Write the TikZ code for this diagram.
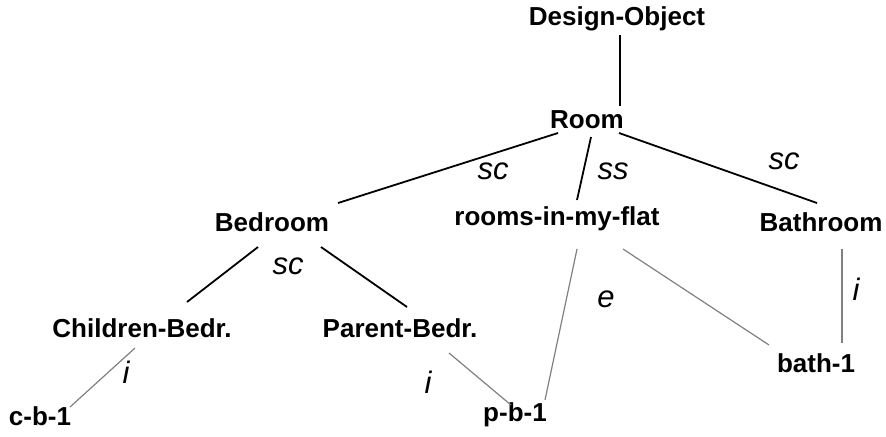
\documentclass[tikz,border=0pt]{standalone}
\usepackage{fontspec}
\setmainfont{Liberation Sans}
\usetikzlibrary{calc}

\begin{document}
\begin{tikzpicture}[
    x=0.5pt, y=-0.5pt,
    concept/.style={font=\bfseries\fontsize{13}{15}\selectfont, inner sep=0pt, anchor=base},
    rel/.style={font=\itshape\fontsize{15.5}{18}\selectfont, inner sep=0pt, anchor=base},
    isa/.style={line width=0.9pt},
    inst/.style={line width=0.6pt, gray}
    ]
    \useasboundingbox (0,0) rectangle (886,436);

    % concepts
    \node[concept] (object) at (617,25) {Design-Object};
    \node[concept] (room) at (587,128) {Room};
    \node[concept] (bedroom) at (272,231) {Bedroom};
    \node[concept] (myflat) at (557,225) {rooms-in-my-flat};
    \node[concept] (bathroom) at (821,231) {Bathroom};
    \node[concept] (children) at (142,337) {Children-Bedr.};
    \node[concept] (parent) at (400,337) {Parent-Bedr.};

    % instances
    \node[concept] (cb) at (40,425) {c-b-1};
    \node[concept] (pb) at (515,421) {p-b-1};
    \node[concept] (bath) at (816,372) {bath-1};

    % relation labels
    \node[rel] (scroom) at (493,179) {sc};
    \node[rel] (ssroom) at (613,179) {ss};
    \node[rel] (scbath) at (784,169) {sc};
    \node[rel] (scbed) at (288,274) {sc};
    \node[rel] (eflat) at (606,307) {e};
    \node[rel] (ichild) at (126,383) {i};
    \node[rel] (iparent) at (428,393) {i};
    \node[rel] (ibath) at (856,300) {i};

    \draw[isa] ($(object.base)+(3,10)$) -- ($(room.base)+(33,-22)$);
    \draw[isa] ($(room.base)+(-29,5)$) -- ($(bedroom.base)+(66,-28)$);
    \draw[isa] ($(room.base)+(4,9)$) -- ($(myflat.base)+(20,-25)$);
    \draw[isa] ($(room.base)+(32,5)$) -- ($(bathroom.base)+(-4,-28)$);
    \draw[isa] ($(bedroom.base)+(-14,16)$) -- ($(children.base)+(45,-35)$);
    \draw[isa] ($(bedroom.base)+(49,16)$) -- ($(parent.base)+(7,-30)$);

    \draw[inst] ($(children.base)+(-7,11)$) -- ($(cb.base)+(30,-18)$);
    \draw[inst] ($(parent.base)+(49,16)$) -- ($(pb.base)+(-4,-16)$);
    \draw[inst] ($(myflat.base)+(20,24)$) -- ($(pb.base)+(30,-21)$);
    \draw[inst] ($(myflat.base)+(66,24)$) -- ($(bath.base)+(-47,-27)$);
    \draw[inst] ($(bathroom.base)+(21,18)$) -- ($(bath.base)+(26,-29)$);
\end{tikzpicture}
\end{document}
